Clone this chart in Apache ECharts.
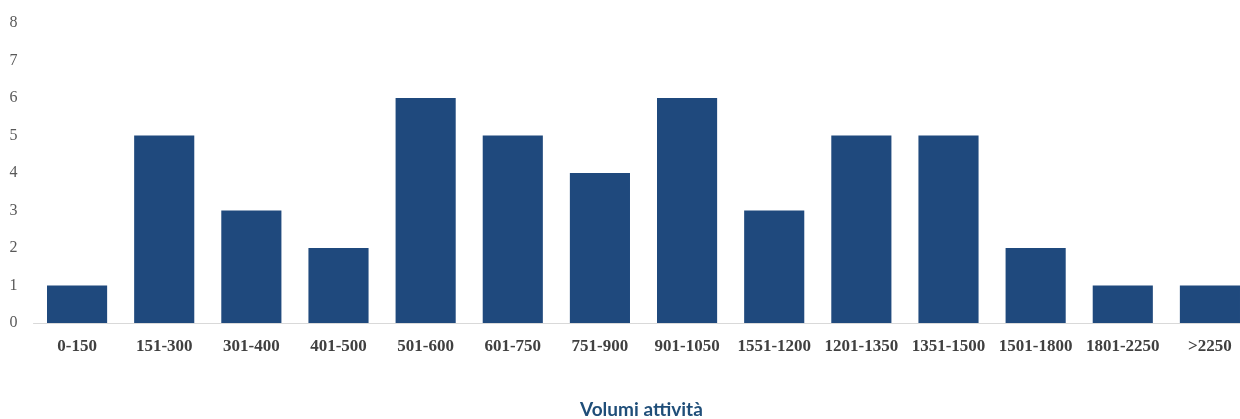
<!DOCTYPE html>
<html>
<head>
<meta charset="utf-8">
<script src="https://cdn.jsdelivr.net/npm/echarts@6/dist/echarts.min.js"></script>
<style>
html,body{margin:0;padding:0;background:#fff;}
#chart{width:1240px;height:419px;}
</style>
</head>
<body>
<div id="chart"></div>
<script>
const categories = ['0-150','151-300','301-400','401-500','501-600','601-750','751-900','901-1050','1551-1200','1201-1350','1351-1500','1501-1800','1801-2250','>2250'];
const values = [1,5,3,2,6,5,4,6,3,5,5,2,1,1];
const yTicks = {min:0, max:8, interval:1};
const titleText = 'Volumi attività';

const chart = echarts.init(document.getElementById('chart'));
chart.setOption({
  animation:false,
  backgroundColor:'#ffffff',
  title:{
    text:titleText,
    left:575,
    bottom:-5,
    textStyle:{fontFamily:'Lato',fontWeight:'bold',fontSize:19,color:'#1f4e79'}
  },
  grid:{left:33.5,top:23,width:1220,bottom:96,containLabel:false,outerBoundsMode:'none'},
  xAxis:{
    type:'category',
    data:categories,
    axisLine:{lineStyle:{color:'#d9d9d9',width:1}},
    axisTick:{show:false},
    axisLabel:{interval:0,margin:15,fontFamily:'Liberation Serif',fontWeight:'bold',fontSize:17,color:'#404040'}
  },
  yAxis:{
    type:'value',
    min:yTicks.min,max:yTicks.max,interval:yTicks.interval,
    splitLine:{show:false},
    axisLine:{show:false},
    axisTick:{show:false},
    axisLabel:{margin:16,fontFamily:'Liberation Serif',fontSize:16,color:'#595959'}
  },
  series:[{
    type:'bar',
    data:values,
    barCategoryGap:'31%',
    itemStyle:{color:'#1f497d'}
  }]
});
</script>
</body>
</html>
